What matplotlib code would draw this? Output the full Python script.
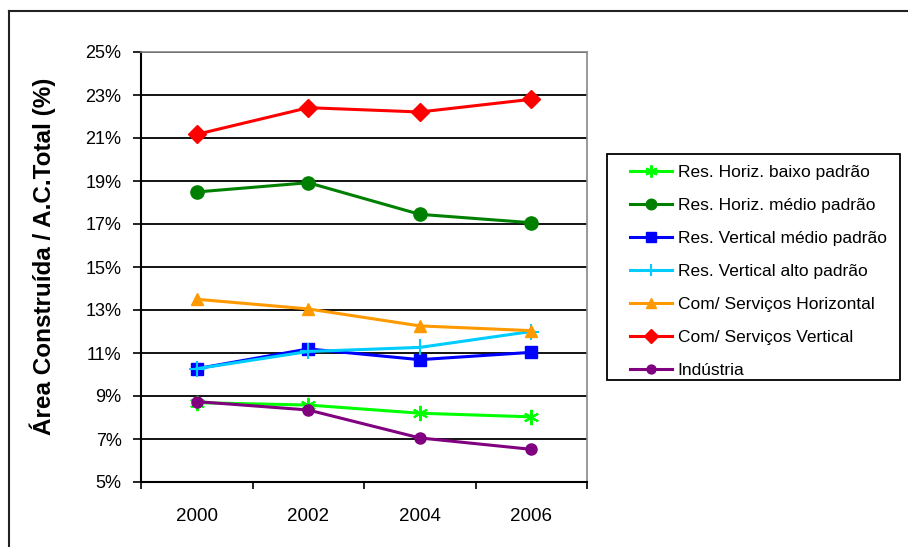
import matplotlib.pyplot as plt
from matplotlib.lines import Line2D
from matplotlib.patches import Rectangle
from matplotlib.ticker import FuncFormatter

plt.rcParams['font.family'] = ['Liberation Sans', 'DejaVu Sans']

anos = ['2000', '2002', '2004', '2006']

res_horiz_baixo = [8.69, 8.58, 8.20, 8.03]
res_horiz_medio = [18.49, 18.92, 17.45, 17.06]
res_vert_medio = [10.27, 11.19, 10.69, 11.03]
res_vert_alto = [10.27, 11.07, 11.26, 12.00]
com_horizontal = [13.50, 13.05, 12.26, 12.04]
com_vertical = [21.17, 22.41, 22.21, 22.80]
industria = [8.74, 8.35, 7.05, 6.52]

# asterisco: linha vertical + duas diagonais
estrela = (6, 2, 0)

series = [
    ("Res. Horiz. baixo padrão", res_horiz_baixo, '#00ff00', estrela, 11),
    ("Res. Horiz. médio padrão", res_horiz_medio, '#008000', 'o', 9.5),
    ("Res. Vertical médio padrão", res_vert_medio, '#0000ff', 's', 8.5),
    ("Res. Vertical alto padrão", res_vert_alto, '#00ccff', '+', 11),
    ("Com/ Serviços Horizontal", com_horizontal, '#ff9900', '^', 9),
    ("Com/ Serviços Vertical", com_vertical, '#ff0000', 'D', 9),
    ("Indústria", industria, '#800080', 'o', 8),
]

fig = plt.figure(figsize=(9.08, 5.47), dpi=100)
ax = fig.add_axes([141 / 908, 1 - 482 / 547, 446 / 908, 430 / 547])

x = range(len(anos))
for nome, vals, cor, mk, ms in series:
    ax.plot(x, vals, color=cor, marker=mk, markersize=ms, linewidth=2.2,
            markeredgewidth=1.5 if mk in (estrela, '+') else 1, label=nome)

ax.set_xlim(-0.5, 3.5)
ax.set_ylim(5, 25)
ax.set_yticks(range(5, 26, 2))
ax.yaxis.set_major_formatter(FuncFormatter(lambda v, p: f"{v:.0f}%"))
ax.set_xticks([-0.5, 0.5, 1.5, 2.5, 3.5])
ax.set_xticklabels([])
ax.set_xticks(list(x), minor=True)
ax.set_xticklabels(anos, minor=True)
ax.tick_params(axis='x', which='minor', length=0, pad=19, labelsize=13.5)
ax.tick_params(axis='x', which='major', length=5, width=1.2, direction='out')
ax.tick_params(axis='y', length=6, width=1.2, direction='out', labelsize=13, pad=8)
ax.grid(axis='y', color='black', linewidth=1.3)
ax.set_axisbelow(True)

for s in ['left', 'bottom']:
    ax.spines[s].set_linewidth(1.5)
for s in ['top', 'right']:
    ax.spines[s].set_color('#888888')
    ax.spines[s].set_linewidth(1.2)

ax.set_ylabel("Área Construída / A.C.Total (%)", fontsize=17.5, fontweight='bold')
ax.yaxis.set_label_coords(-0.19, 0.526)

# caixa da legenda
fig.add_artist(Rectangle((607 / 908, 1 - 380 / 547), 293 / 908, 226 / 547,
                         transform=fig.transFigure, facecolor='white',
                         edgecolor='black', linewidth=1.3))
leg = fig.legend(loc='upper left', bbox_to_anchor=(630 / 908, 1 - 165 / 547),
                 frameon=False, fontsize=12.5, markerscale=0.8,
                 handlelength=2.4, labelspacing=1.03, borderpad=0,
                 handletextpad=0.35, borderaxespad=0)

# moldura externa
fig.add_artist(Line2D([9 / 908, 9 / 908], [0, 1 - 11 / 547], color='#222222', linewidth=1.5))
fig.add_artist(Line2D([9 / 908, 1], [1 - 11 / 547, 1 - 11 / 547], color='#222222', linewidth=1.5))

fig.savefig('out.png', dpi=100)
